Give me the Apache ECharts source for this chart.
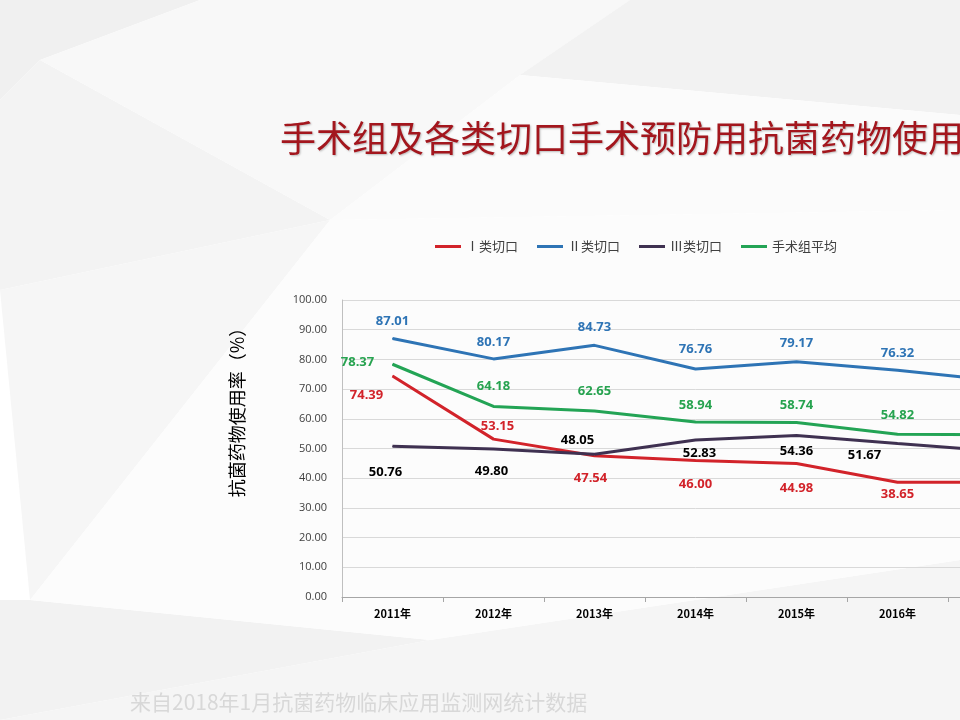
<!DOCTYPE html>
<html>
<head>
<meta charset="utf-8">
<script src="https://cdn.jsdelivr.net/npm/echarts@6/dist/echarts.min.js"></script>
<style>
html,body{margin:0;padding:0;background:#f7f7f7;overflow:hidden;width:960px;height:720px;}
#c{width:1049px;height:720px;}
</style>
</head>
<body>
<div id="c"></div>
<script>
var categories = ['2011年','2012年','2013年','2014年','2015年','2016年','2017年'];
var seriesNames = ['Ⅰ类切口','Ⅱ类切口','Ⅲ类切口','手术组平均'];
var class1 = [74.39, 53.15, 47.54, 46.00, 44.98, 38.65, 38.6];
var class2 = [87.01, 80.17, 84.73, 76.76, 79.17, 76.32, 72.8];
var class3 = [50.76, 49.80, 48.05, 52.83, 54.36, 51.67, 49.05];
var average = [78.37, 64.18, 62.65, 58.94, 58.74, 54.82, 54.6];
var yTicks = {min: 0, max: 100, interval: 10};

// label placement (style config, offsets from point)
var labelOffsets = {
  c1: [[-26,19],[4,-13],[-4,22],[0,24],[0,25],[0,12],[0,12]],
  c2: [[0,-17],[0,-17],[0,-18],[0,-20],[0,-19],[0,-17],[0,-17]],
  c3: [[-7,26],[-2,22],[-17,-14],[4,13],[0,16],[-33,12],[0,14]],
  avg: [[-35,-2],[0,-20],[0,-20],[0,-17],[0,-17],[0,-19],[0,-19]]
};

var colors = {c1:'#d2232a', c2:'#2e74b5', c3:'#3f3151', avg:'#23a455'};
var labelColors = {c1:'#d2232a', c2:'#2e74b5', c3:'#000000', avg:'#27a350'};

function mk(name, values, key){
  return {
    name: name,
    type: 'line',
    data: values.map(function(v, i){
      return {value: v, label: {offset: labelOffsets[key][i]}};
    }),
    symbol: 'circle',
    symbolSize: 1,
    showSymbol: true,
    lineStyle: {width: 3, color: colors[key]},
    itemStyle: {color: colors[key]},
    label: {
      show: true, position: 'inside',
      formatter: function(p){ return p.value.toFixed(2); },
      color: labelColors[key], fontSize: 13, fontWeight: 'bold',
      fontFamily: 'Open Sans, Arial, sans-serif'
    },
    emphasis: {disabled: true},
    animation: false
  };
}

var bg = [
  {pts:[[0,0],[200,0],[40,60],[0,100]], c:'#f0f0f0'},
  {pts:[[0,100],[40,60],[330,220],[0,290]], c:'#f3f3f3'},
  {pts:[[200,0],[630,0],[520,75],[330,220],[40,60]], c:'#f8f8f8'},
  {pts:[[630,0],[960,0],[960,115],[520,75]], c:'#f2f2f2'},
  {pts:[[520,75],[960,115],[960,210],[330,220]], c:'#fbfbfb'},
  {pts:[[0,290],[330,220],[30,600]], c:'#f6f6f6'},
  {pts:[[0,600],[30,600],[430,640],[0,720]], c:'#f2f2f2'},
  {pts:[[430,640],[960,560],[960,720],[0,720]], c:'#f5f5f5'},
  {pts:[[330,220],[960,210],[960,560],[430,640],[30,600]], c:'#fcfcfc'}
];
var graphics = bg.map(function(p){
  return {type:'polygon', shape:{points:p.pts}, style:{fill:p.c}, silent:true, z:-10};
});
graphics.push({
  type:'text', left: 280, top: 120,
  style:{text:'手术组及各类切口手术预防用抗菌药物使用率', fill:'#a3161d',
    font:'36px "Noto Sans CJK SC", serif', textShadowColor:'rgba(0,0,0,0.25)',
    textShadowBlur:2, textShadowOffsetX:1, textShadowOffsetY:1},
  z: 10
});
graphics.push({
  type:'text', left: 130, top: 692,
  style:{text:'来自2018年1月抗菌药物临床应用监测网统计数据', fill:'#d8d8d8',
    font:'21px "Noto Sans CJK SC", serif'},
  z: 10
});
graphics.push({
  type:'text', x: 237, y: 408, rotation: Math.PI/2,
  style:{text:'抗菌药物使用率（%）', fill:'#000', align:'center', verticalAlign:'middle',
    font:'18px "Noto Sans CJK SC", serif'},
  z: 10
});

var chart = echarts.init(document.getElementById('c'), null, {renderer:'canvas'});
chart.setOption({
  backgroundColor: '#ffffff',
  animation: false,
  graphic: graphics,
  legend: {
    data: seriesNames,
    left: 430, top: 235,
    icon: 'rect', itemWidth: 26, itemHeight: 3, itemGap: 19,
    textStyle: {fontSize: 13, color: '#404040', fontFamily: '"Noto Sans CJK SC", sans-serif'}
  },
  grid: {left: 342, top: 300, bottom: 123, width: 707, containLabel: false},
  xAxis: {
    type: 'category', data: categories, boundaryGap: true,
    axisLine: {lineStyle: {color: '#a6a6a6', width: 1}},
    axisTick: {show: true, length: 5, lineStyle: {color: '#a6a6a6'}},
    axisLabel: {color: '#000', fontSize: 11, fontWeight: 'bold', margin: 11,
      fontFamily: '"Noto Sans CJK SC", sans-serif'}
  },
  yAxis: {
    type: 'value', min: yTicks.min, max: yTicks.max, interval: yTicks.interval,
    axisLine: {show: true, lineStyle: {color: '#bfbfbf'}},
    axisTick: {show: false},
    splitLine: {lineStyle: {color: '#d9d9d9'}},
    axisLabel: {color: '#404040', fontSize: 11, margin: 15,
      formatter: function(v){ return v.toFixed(2); },
      fontFamily: 'Open Sans, Arial, sans-serif'}
  },
  series: [
    mk(seriesNames[0], class1, 'c1'),
    mk(seriesNames[1], class2, 'c2'),
    mk(seriesNames[2], class3, 'c3'),
    mk(seriesNames[3], average, 'avg')
  ]
});
</script>
</body>
</html>
